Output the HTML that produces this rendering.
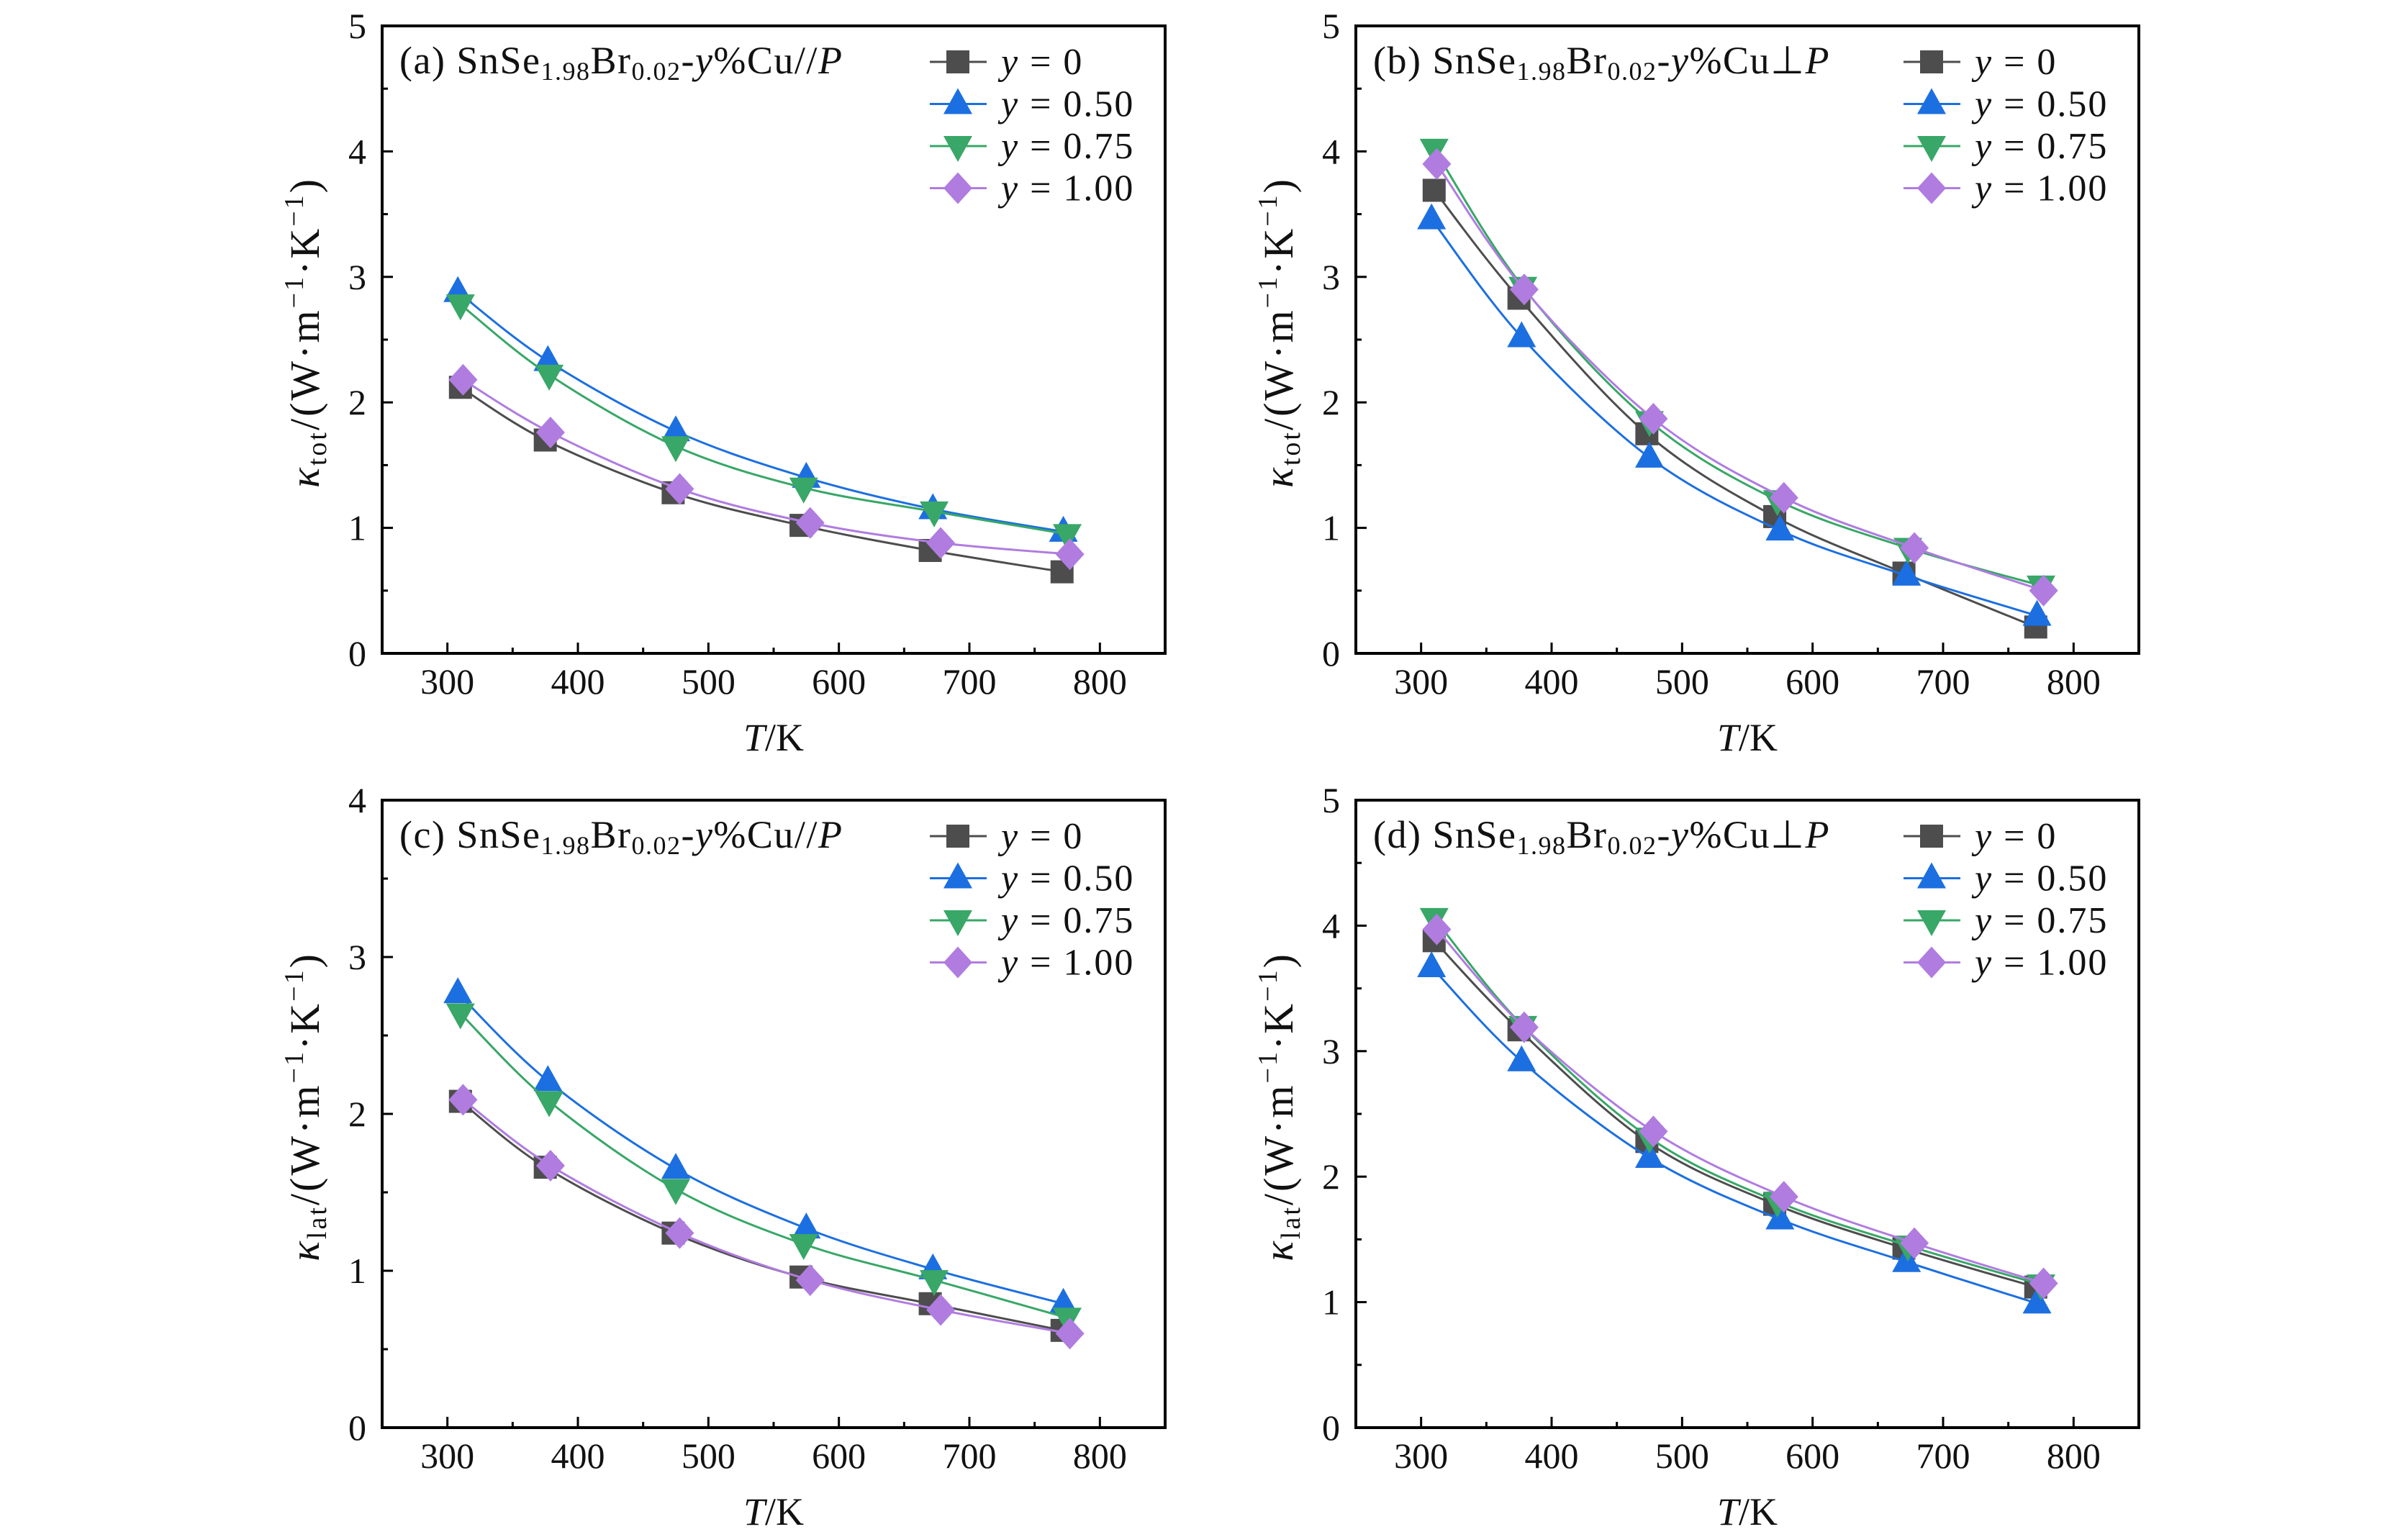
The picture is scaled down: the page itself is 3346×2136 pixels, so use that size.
<!DOCTYPE html>
<html><head><meta charset="utf-8">
<style>
html,body{margin:0;padding:0;background:#fff;}
svg{display:block;}
text{font-family:"Liberation Serif",serif;fill:#111;}
</style></head>
<body>
<svg id="fig" width="3346" height="2136" viewBox="0 0 3346 2136" xmlns="http://www.w3.org/2000/svg"></svg>
<script>
const temps0 = [310, 375, 473, 571, 670, 771];
const temps50 = [308, 377, 475, 575, 672, 772];
const temps75 = [310, 378, 475, 573, 673, 775];
const temps100 = [312, 379, 478, 578, 678, 777];
const seriesLabels = ["y = 0", "y = 0.50", "y = 0.75", "y = 1.00"];
const xTicks = [300, 400, 500, 600, 700, 800];

const aY0 = [2.12, 1.70, 1.28, 1.02, 0.82, 0.65];
const aY50 = [2.88, 2.33, 1.77, 1.40, 1.15, 0.97];
const aY75 = [2.78, 2.22, 1.65, 1.32, 1.13, 0.95];
const aY100 = [2.18, 1.76, 1.31, 1.04, 0.88, 0.79];

const bY0 = [3.69, 2.83, 1.75, 1.09, 0.64, 0.21];
const bY50 = [3.46, 2.52, 1.56, 0.98, 0.62, 0.30];
const bY75 = [4.02, 2.92, 1.85, 1.22, 0.84, 0.54];
const bY100 = [3.90, 2.90, 1.87, 1.24, 0.84, 0.50];

const cY0 = [2.08, 1.66, 1.24, 0.96, 0.79, 0.62];
const cY50 = [2.77, 2.21, 1.65, 1.27, 1.01, 0.79];
const cY75 = [2.64, 2.08, 1.52, 1.17, 0.94, 0.70];
const cY100 = [2.09, 1.67, 1.24, 0.94, 0.75, 0.60];

const dY0 = [3.88, 3.17, 2.28, 1.78, 1.43, 1.12];
const dY50 = [3.67, 2.92, 2.15, 1.66, 1.32, 0.99];
const dY75 = [4.06, 3.20, 2.31, 1.80, 1.45, 1.14];
const dY100 = [3.97, 3.19, 2.36, 1.84, 1.47, 1.15];

const NS = "http://www.w3.org/2000/svg";
const svg = document.getElementById("fig");
const colors = ["#4d4d4d", "#1c6fe0", "#38a767", "#b07ce0"];
const shapes = ["square", "up", "down", "diamond"];
const tempsAll = [temps0, temps50, temps75, temps100];

function mk(tag, attrs, parent) {
  const e = document.createElementNS(NS, tag);
  for (const k in attrs) e.setAttribute(k, attrs[k]);
  (parent || svg).appendChild(e);
  return e;
}

function marker(g, shape, cx, cy, col) {
  let e;
  if (shape === "square") e = mk("rect", {x: cx - 16, y: cy - 16, width: 32, height: 32, fill: col}, g);
  else if (shape === "up") e = mk("polygon", {points: `${cx},${cy - 22} ${cx - 20},${cy + 14} ${cx + 20},${cy + 14}`, fill: col}, g);
  else if (shape === "down") e = mk("polygon", {points: `${cx},${cy + 22} ${cx - 20},${cy - 14} ${cx + 20},${cy - 14}`, fill: col}, g);
  else e = mk("polygon", {points: `${cx},${cy - 22} ${cx + 20},${cy} ${cx},${cy + 22} ${cx - 20},${cy}`, fill: col}, g);
  return e;
}

function smoothPath(pts) {
  let d = `M${pts[0][0]},${pts[0][1]}`;
  for (let i = 0; i < pts.length - 1; i++) {
    const p0 = pts[Math.max(0, i - 1)], p1 = pts[i], p2 = pts[i + 1], p3 = pts[Math.min(pts.length - 1, i + 2)];
    const c1x = p1[0] + (p2[0] - p0[0]) / 6, c1y = p1[1] + (p2[1] - p0[1]) / 6;
    const c2x = p2[0] - (p3[0] - p1[0]) / 6, c2y = p2[1] - (p3[1] - p1[1]) / 6;
    d += ` C${c1x},${c1y} ${c2x},${c2y} ${p2[0]},${p2[1]}`;
  }
  return d;
}

function panel(id, L, T, W, H, yMax, letter, perp, sub, series) {
  const g = mk("g", {});
  
  
  const xs = v => L + (v - 250) / 600 * W;
  const ys = v => T + H - v / yMax * H;
  const B = T + H;
  for (let t = 250; t <= 850; t += 50) {
    if (t === 250 || t === 850) continue;
    const major = t % 100 === 0;
    mk("line", {x1: xs(t), x2: xs(t), y1: B, y2: B - (major ? 15 : 8), stroke: "#000", "stroke-width": 3}, g);
  }
  xTicks.forEach(t => {
    const tx = mk("text", {x: xs(t), y: B + 56, "font-size": 50, "text-anchor": "middle"}, g);
    
    
    tx.textContent = t;
  });
  for (let v = 0; v <= yMax; v += 0.5) {
    const major = Math.abs(v - Math.round(v)) < 1e-9;
    if (v > 0 && v < yMax) mk("line", {x1: L, x2: L + (major ? 15 : 8), y1: ys(v), y2: ys(v), stroke: "#000", "stroke-width": 3}, g);
    if (major) {
      const tx = mk("text", {x: L - 22, y: ys(v) + 17, "font-size": 50, "text-anchor": "end"}, g);
      
      
      tx.textContent = v;
    }
  }
  series.forEach((vals, si) => {
    const sg = mk("g", {}, g);
    
    
    const pts = vals.map((v, i) => [xs(tempsAll[si][i]), ys(v)]);
    mk("path", {d: smoothPath(pts), fill: "none", stroke: colors[si], "stroke-width": 3}, sg);
    pts.forEach(p => {
      const m = marker(sg, shapes[si], p[0], p[1], colors[si]);
      
      
    });
  });
  const fr = mk("rect", {x: L, y: T, width: W, height: H, fill: "none", stroke: "#000", "stroke-width": 4}, g);
  
  
  const lab = mk("text", {x: L + 24, y: T + 66, "font-size": 54, "letter-spacing": 1.5}, g);
  
  
  lab.innerHTML = `(${letter}) SnSe<tspan font-size="36" dy="9">1.98</tspan><tspan dy="-9">Br</tspan><tspan font-size="36" dy="9">0.02</tspan><tspan dy="-9">-</tspan><tspan font-style="italic">y</tspan>%Cu${perp ? "⊥" : "//"}<tspan font-style="italic">P</tspan>`;
  const lg = mk("g", {}, g);
  
  
  const vals = ["0", "0.50", "0.75", "1.00"];
  for (let i = 0; i < 4; i++) {
    const cy = T + 50 + i * 58.5;
    const eg = mk("g", {}, lg);
    
    
    mk("line", {x1: L + 761, x2: L + 840, y1: cy, y2: cy, stroke: colors[i], "stroke-width": 3}, eg);
    marker(eg, shapes[i], L + 800, cy, colors[i]);
    const tx = mk("text", {x: L + 860, y: cy + 17, "font-size": 52, "letter-spacing": 2}, eg);
    tx.innerHTML = `<tspan font-style="italic">y</tspan> = ${vals[i]}`;
  }
  const xt = mk("text", {x: L + W / 2, y: B + 135, "font-size": 54, "text-anchor": "middle"}, g);
  
  
  xt.innerHTML = `<tspan font-style="italic">T</tspan>/K`;
  const yt = mk("text", {x: 0, y: 0, "font-size": 58, "letter-spacing": 3, "text-anchor": "middle", transform: `translate(${L - 88},${T + H / 2 - 10}) rotate(-90)`}, g);
  
  
  yt.innerHTML = `<tspan font-style="italic">κ</tspan><tspan font-size="38" dy="10">${sub}</tspan><tspan dy="-10">/(W·m</tspan><tspan font-size="38" dy="-22">−1</tspan><tspan dy="22">·K</tspan><tspan font-size="38" dy="-22">−1</tspan><tspan dy="22">)</tspan>`;
}

panel("a", 531, 36, 1088, 872, 5, "a", false, "tot", [aY0, aY50, aY75, aY100]);
panel("b", 1884, 36, 1088, 872, 5, "b", true, "tot", [bY0, bY50, bY75, bY100]);
panel("c", 531, 1112, 1088, 872, 4, "c", false, "lat", [cY0, cY50, cY75, cY100]);
panel("d", 1884, 1112, 1088, 872, 5, "d", true, "lat", [dY0, dY50, dY75, dY100]);
</script>
</body></html>
